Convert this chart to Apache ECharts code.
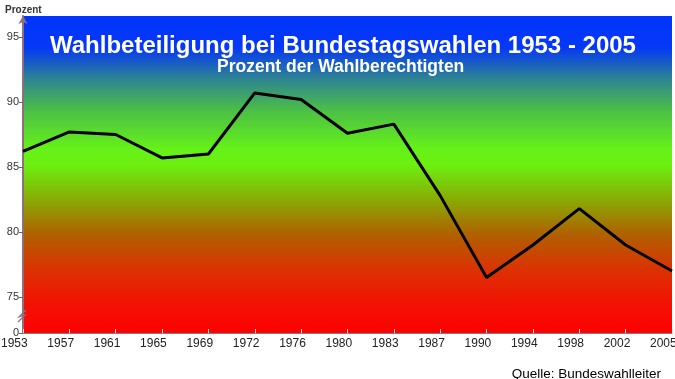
<!DOCTYPE html>
<html><head><meta charset="utf-8">
<script src="https://cdn.jsdelivr.net/npm/echarts@6/dist/echarts.min.js"></script>
<style>html,body{margin:0;padding:0;background:#fff}#c{width:675px;height:379px}</style>
</head><body><div id="c"></div>
<script>
const years = ['1953','1957','1961','1965','1969','1972','1976','1980','1983','1987','1990','1994','1998','2002','2005'];
const turnout = [86.2, 87.7, 87.5, 85.7, 86.0, 90.7, 90.2, 87.6, 88.3, 82.8, 76.5, 79.0, 81.8, 79.0, 77.0];
const yTicks = [75, 80, 85, 90, 95];
const yBreakBottom = 72.23; // shown as "0" (axis break)
const yTop = 96.62;
const title = 'Wahlbeteiligung bei Bundestagswahlen 1953 - 2005';
const subtitle = 'Prozent der Wahlberechtigten';
const source = 'Quelle: Bundeswahlleiter';

const chart = echarts.init(document.getElementById('c'));
const FONT = '"Liberation Sans", Arial, sans-serif';
chart.setOption({
  animation: false,
  textStyle: {fontFamily: FONT},
  grid: {left: 23, right: 3, top: 16, bottom: 46, show: true, borderWidth: 0, outerBoundsMode: 'none', containLabel: false,
    backgroundColor: new echarts.graphic.LinearGradient(0, 0, 0, 1, [
      {offset: 0, color: '#0033ff'},
      {offset: 0.1, color: '#0638f6'},
      {offset: 0.2, color: '#2e8590'},
      {offset: 0.3, color: '#4cc045'},
      {offset: 0.42, color: '#66f218'},
      {offset: 0.47, color: '#6cf010'},
      {offset: 0.58, color: '#8aaa04'},
      {offset: 0.69, color: '#b06000'},
      {offset: 0.8, color: '#dc3202'},
      {offset: 0.9, color: '#f01404'},
      {offset: 1, color: '#ff0000'}
    ])},
  title: [
    {text: title, left: 45, top: 29, textStyle: {color: '#fff', fontSize: 24, fontWeight: 'bold', fontFamily: FONT}},
    {text: subtitle, left: 212, top: 53, textStyle: {color: '#fff', fontSize: 17.5, fontWeight: 'bold', fontFamily: FONT}},
    {text: source, right: 9, top: 362, textStyle: {color: '#000', fontSize: 13.5, fontWeight: 'normal', fontFamily: FONT}},
    {text: 'Prozent', left: 0, top: 0, textStyle: {color: '#333', fontSize: 10, fontWeight: 'bold', fontFamily: FONT}}
  ],
  xAxis: {
    type: 'category', data: years, boundaryGap: false,
    axisLine: {lineStyle: {color: '#8a7a84', width: 1}},
    axisTick: {inside: true, length: 4, interval: 0, lineStyle: {color: '#dddddd'}},
    axisLabel: {color: '#222', fontSize: 12, margin: 5, fontFamily: FONT, interval: 0, hideOverlap: false,
      formatter: v => '{a|' + v + '}',
      rich: {a: {width: 44, align: 'left', color: '#222', fontSize: 12, fontFamily: FONT}}},
    splitLine: {show: false}
  },
  yAxis: {
    type: 'value', min: yBreakBottom, max: yTop,
    axisLine: {show: true, lineStyle: {color: '#8a7080', width: 2}, symbol: ['none', 'arrow'], symbolSize: [7, 8]},
    axisTick: {show: true, length: 4, lineStyle: {color: '#666'}, customValues: [yBreakBottom].concat(yTicks)},
    axisLabel: {color: '#333', fontSize: 11, margin: 4, fontFamily: FONT,
      customValues: [yBreakBottom].concat(yTicks),
      formatter: v => v < 74 ? '0' : String(Math.round(v))},
    splitLine: {show: false}
  },
  graphic: [
    {type: 'polyline', shape: {points: [[18, 322], [25, 315], [19, 317], [26, 310]]}, style: {stroke: '#8a7080', lineWidth: 1.2, fill: null}, z: 100}
  ],
  series: [{
    type: 'line', data: turnout, symbol: 'none',
    lineStyle: {color: '#000', width: 3}
  }]
});
</script></body></html>
